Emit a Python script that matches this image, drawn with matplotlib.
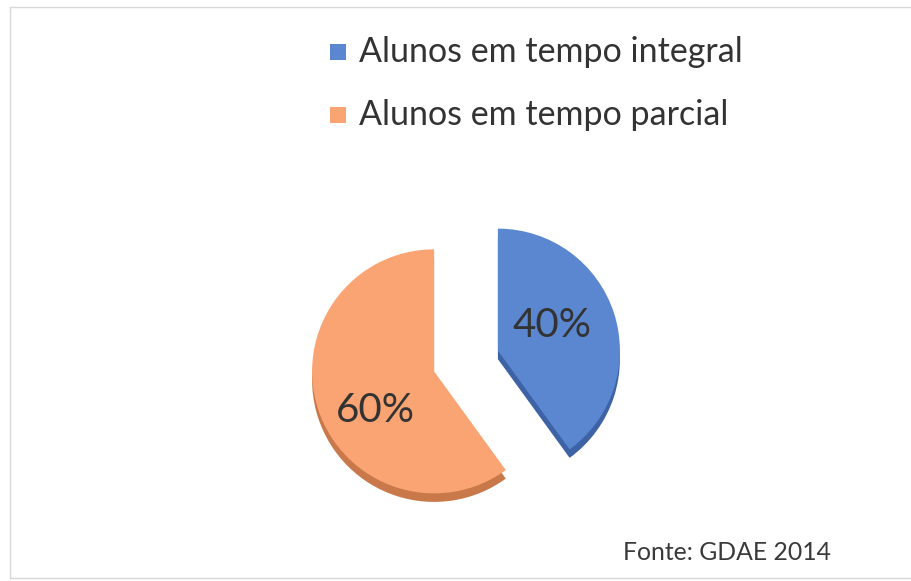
import matplotlib
matplotlib.use("Agg")
import matplotlib.pyplot as plt
from matplotlib.patches import Rectangle
from matplotlib.lines import Line2D

categories = ["Alunos em tempo integral", "Alunos em tempo parcial"]
values = [40, 60]
pct_labels = ["40%", "60%"]
source = "Fonte: GDAE 2014"

colors = ["#5b87d0", "#f9a472"]
side_colors = ["#3d63a6", "#c9784a"]

W, H = 911, 581
fig = plt.figure(figsize=(W / 100, H / 100), dpi=100)
ax = fig.add_axes([0, 0, 1, 1])
scale = 122.0
cx, cy = 466.0, H - 361.0
ax.axis("off")

explode = [0.275, 0.275]
font = ["Lato", "DejaVu Sans"]

# 3D side (depth) drawn first as offset shadow wedges
depth = 0.07
ax.pie(values, startangle=90, counterclock=False,
       explode=explode, colors=side_colors,
       center=(0, -depth), radius=1.0,
       wedgeprops=dict(linewidth=0))
wedges, texts = ax.pie(values, startangle=90, counterclock=False,
                       explode=explode, colors=colors,
                       center=(0, 0), radius=1.0,
                       labels=pct_labels, labeldistance=0.55,
                       wedgeprops=dict(linewidth=0),
                       textprops=dict(fontsize=29, color="#333333", family=font))
label_pos = [(0.705, 0.287), (-0.746, -0.402)]
for t, p in zip(texts, label_pos):
    t.set_ha("center")
    t.set_va("center")
    t.set_position(p)

ax.set_aspect("auto")
ax.set_xlim(-cx / scale, (W - cx) / scale)
ax.set_ylim(-cy / scale, (H - cy) / scale)

# Legend drawn manually in figure pixel coordinates
for i, (lab, col) in enumerate(zip(categories, colors)):
    ym = H - (52 + i * 63)
    fig.patches.append(Rectangle((330 / W, (ym - 8) / H), 16 / W, 16 / H,
                                 transform=fig.transFigure, facecolor=col,
                                 edgecolor="none"))
    fig.text(359 / W, ym / H, lab, fontsize=24.5, color="#333333",
             family=font, ha="left", va="center")

fig.text(623 / W, (H - 552) / H, source, fontsize=17.8, color="#3a3a3a",
         family=font, ha="left", va="center")

# faint frame
fig.add_artist(Line2D([10 / W, 10 / W], [3 / H, (H - 7) / H], color="#d8d8d8", lw=1))
fig.add_artist(Line2D([10 / W, 1], [(H - 7) / H, (H - 7) / H], color="#d8d8d8", lw=1))
fig.add_artist(Line2D([10 / W, 1], [3 / H, 3 / H], color="#d8d8d8", lw=1))

fig.savefig("out.png", dpi=100, facecolor="white")
